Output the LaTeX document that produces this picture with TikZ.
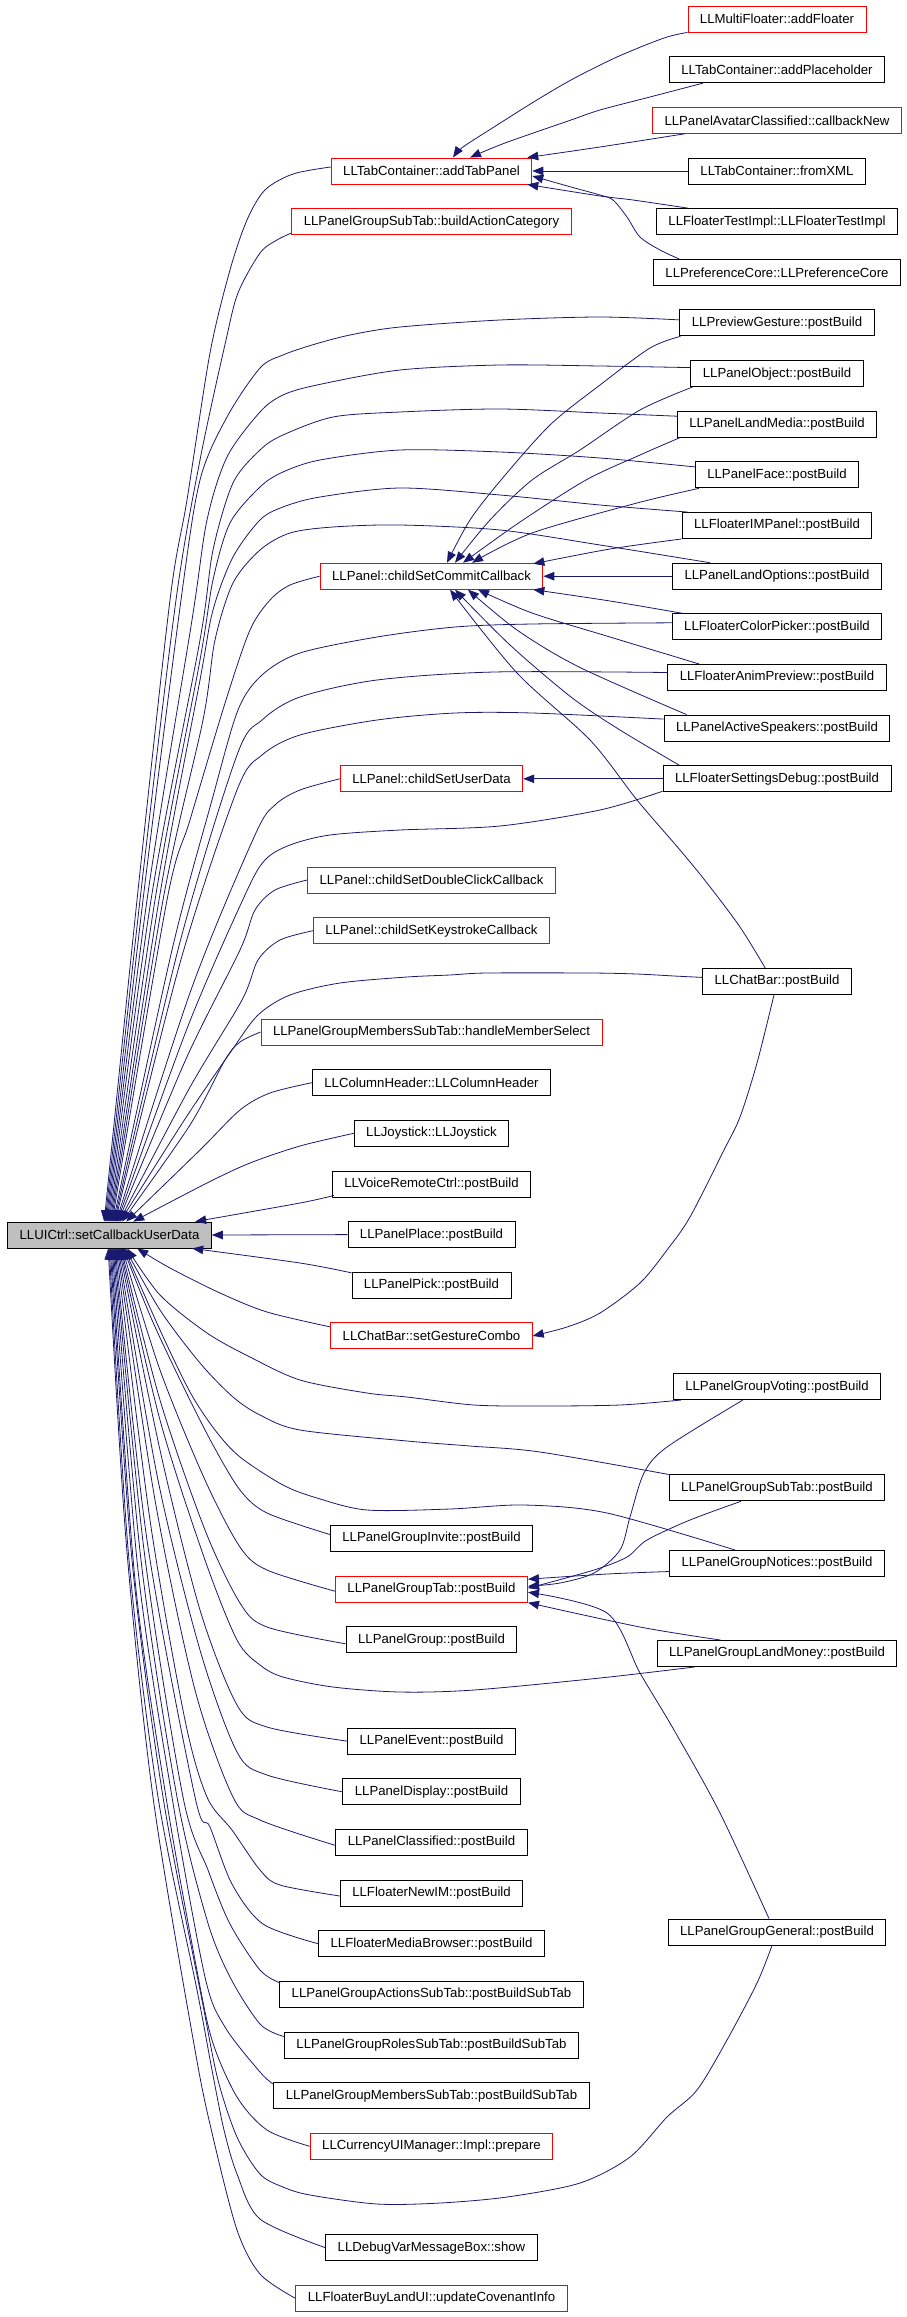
\documentclass[tikz,border=0pt]{standalone}
\usepackage{fontspec}
\setmainfont{Liberation Sans}
\usetikzlibrary{calc,arrows.meta}
\definecolor{edgeblue}{RGB}{25,25,112}
\definecolor{nodegray}{RGB}{191,191,191}
\begin{document}
\begin{tikzpicture}[x=1pt,y=-1pt,
  fn/.style={draw, rectangle, line width=0.9pt, inner xsep=12pt, inner ysep=2pt, minimum height=26pt, font=\fontsize{13.2}{15}\selectfont, anchor=center},
  fnred/.style={fn, draw=red},
  fnblk/.style={fn, draw=black},
  fnroot/.style={fn, draw=black, fill=nodegray},
  conn/.style={draw=edgeblue, line width=0.8pt, -{Triangle[length=11pt,width=8.5pt]}},
  cv/.style={smooth, tension=0.5}]
\useasboundingbox (0,0) rectangle (907,2317);
% ---------- root ----------
\node[fnroot] (cb) at (109.5,1235) {LLUICtrl::setCallbackUserData};
% ---------- middle column ----------
\node[fnred] (m1) at (431.5,171) {LLTabContainer::addTabPanel};
\node[fnred] (m2) at (431.5,221.6) {LLPanelGroupSubTab::buildActionCategory};
\node[fnred] (m3) at (431.5,576.2) {LLPanel::childSetCommitCallback};
\node[fnred] (m4) at (431.5,778.8) {LLPanel::childSetUserData};
\node[fnred] (m5) at (431.5,880) {LLPanel::childSetDoubleClickCallback};
\node[fnred] (m6) at (431.5,930.7) {LLPanel::childSetKeystrokeCallback};
\node[fnred] (m7) at (431.5,1032) {LLPanelGroupMembersSubTab::handleMemberSelect};
\node[fnblk] (m8) at (431.5,1082.7) {LLColumnHeader::LLColumnHeader};
\node[fnblk] (m9) at (431.5,1133.3) {LLJoystick::LLJoystick};
\node[fnblk] (m10) at (431.5,1184) {LLVoiceRemoteCtrl::postBuild};
\node[fnblk] (m11) at (431.5,1234.6) {LLPanelPlace::postBuild};
\node[fnblk] (m12) at (431.5,1285.3) {LLPanelPick::postBuild};
\node[fnred] (m13) at (431.5,1335.9) {LLChatBar::setGestureCombo};
\node[fnblk] (m14) at (431.5,1538.5) {LLPanelGroupInvite::postBuild};
\node[fnred] (m15) at (431.5,1589.2) {LLPanelGroupTab::postBuild};
\node[fnblk] (m16) at (431.5,1639.8) {LLPanelGroup::postBuild};
\node[fnblk] (m17) at (431.5,1741.1) {LLPanelEvent::postBuild};
\node[fnblk] (m18) at (431.5,1791.8) {LLPanelDisplay::postBuild};
\node[fnblk] (m19) at (431.5,1842.4) {LLPanelClassified::postBuild};
\node[fnblk] (m20) at (431.5,1893) {LLFloaterNewIM::postBuild};
\node[fnblk] (m21) at (431.5,1943.7) {LLFloaterMediaBrowser::postBuild};
\node[fnblk] (m22) at (431.5,1994.4) {LLPanelGroupActionsSubTab::postBuildSubTab};
\node[fnblk] (m23) at (431.5,2045) {LLPanelGroupRolesSubTab::postBuildSubTab};
\node[fnblk] (m24) at (431.5,2095.7) {LLPanelGroupMembersSubTab::postBuildSubTab};
\node[fnred] (m25) at (431.5,2146.3) {LLCurrencyUIManager::Impl::prepare};
\node[fnblk] (m26) at (431.5,2247.6) {LLDebugVarMessageBox::show};
\node[fnred] (m27) at (431.5,2298.3) {LLFloaterBuyLandUI::updateCovenantInfo};
% ---------- right column ----------
\node[fnred] (r1) at (777,19) {LLMultiFloater::addFloater};
\node[fnblk] (r2) at (777,69.7) {LLTabContainer::addPlaceholder};
\node[fnred] (r3) at (777,120.3) {LLPanelAvatarClassified::callbackNew};
\node[fnblk] (r4) at (777,171) {LLTabContainer::fromXML};
\node[fnblk] (r5) at (777,221.6) {LLFloaterTestImpl::LLFloaterTestImpl};
\node[fnblk] (r6) at (777,272.3) {LLPreferenceCore::LLPreferenceCore};
\node[fnblk] (r7) at (777,322.9) {LLPreviewGesture::postBuild};
\node[fnblk] (r8) at (777,373.6) {LLPanelObject::postBuild};
\node[fnblk] (r9) at (777,424.2) {LLPanelLandMedia::postBuild};
\node[fnblk] (r10) at (777,474.9) {LLPanelFace::postBuild};
\node[fnblk] (r11) at (777,525.5) {LLFloaterIMPanel::postBuild};
\node[fnblk] (r12) at (777,576.2) {LLPanelLandOptions::postBuild};
\node[fnblk] (r13) at (777,626.8) {LLFloaterColorPicker::postBuild};
\node[fnblk] (r14) at (777,677.5) {LLFloaterAnimPreview::postBuild};
\node[fnblk] (r15) at (777,728.1) {LLPanelActiveSpeakers::postBuild};
\node[fnblk] (r16) at (777,778.8) {LLFloaterSettingsDebug::postBuild};
\node[fnblk] (r17) at (777,981.4) {LLChatBar::postBuild};
\node[fnblk] (r18) at (777,1386.6) {LLPanelGroupVoting::postBuild};
\node[fnblk] (r19) at (777,1487.9) {LLPanelGroupSubTab::postBuild};
\node[fnblk] (r20) at (777,1563.5) {LLPanelGroupNotices::postBuild};
\node[fnblk] (r21) at (777,1653.5) {LLPanelGroupLandMoney::postBuild};
\node[fnblk] (r22) at (777,1932) {LLPanelGroupGeneral::postBuild};
% ---------- end points on the root ----------
\foreach \x in {104,...,127,133,137,192,195} {
  \coordinate (T\x) at ($(cb.north west)+(\x-7,0)$);
  \coordinate (B\x) at ($(cb.south west)+(\x-7,0)$);
}
% ---------- edges into addTabPanel ----------
\draw[conn] plot[cv] coordinates {(r1.south west) (664,38) (617,57) (571,80) (532,103) (494,127) (463,147) ($(m1.north)+(21.5,0)$)};
\draw[conn] plot[cv] coordinates {($(r2.south west)+(34,0)$) (650,97) (600,110) (571,120) (505,143) ($(m1.north)+(38.5,0)$)};
\draw[conn] plot[cv] coordinates {($(r3.south west)+(33,0)$) (600,147) ($(m1.north east)+(-5,0)$)};
\draw[conn] (r4.west) -- (m1.east);
\draw[conn] plot[cv] coordinates {($(r5.north west)+(32,0)$) (633,200) (600,196) ($(m1.south east)+(-5,0)$)};
\draw[conn] plot[cv] coordinates {($(r6.north west)+(26,0)$) (660,250) (640,237) (627,217) (613,200) (600,195) (571,187) ($(m1.east)+(0,5)$)};
% ---------- edges into childSetCommitCallback ----------
\draw[conn] plot[cv] coordinates {($(r7.south west)+(1,0)$) (650,348) (600,385) (550,425) (501,480) (470,520) ($(m3.north)+(15.5,0)$)};
\draw[conn] plot[cv] coordinates {($(r8.south west)+(2,0)$) (640,410) (580,450) (532,480) (490,520) ($(m3.north)+(23.5,0)$)};
\draw[conn] plot[cv] coordinates {($(r9.south west)+(3,0)$) (640,455) (586,480) (520,522) ($(m3.north)+(31.5,0)$)};
\draw[conn] plot[cv] coordinates {($(r10.south west)+(4,0)$) (637,503) (532,533) ($(m3.north)+(40.5,0)$)};
\draw[conn] plot[cv] coordinates {(r11.south west) (610,549) ($(m3.north east)+(-10,1)$)};
\draw[conn] (r12.west) -- (m3.east);
\draw[conn] plot[cv] coordinates {($(r13.north west)+(11,0)$) (610,601) ($(m3.south east)+(-10,0)$)};
\draw[conn] plot[cv] coordinates {($(r14.north west)+(32,0)$) (610,637) (532,613) ($(m3.south)+(46.5,0)$)};
\draw[conn] plot[cv] coordinates {($(r15.north west)+(23,0)$) (579,667) (517,630) ($(m3.south)+(36.5,0)$)};
\draw[conn] plot[cv] coordinates {($(r16.north west)+(17,0)$) (620,730) (571,697) (510,645) ($(m3.south)+(23.5,0)$)};
\draw[conn] plot[cv] coordinates {($(r17.north west)+(63,0)$) (740,927) (707,883) (680,850) (637,800) (590,740) (517,673) ($(m3.south)+(18.5,0)$)};
% ---------- other short edges ----------
\draw[conn] (r16.west) -- (m4.east);
\draw[conn] plot[cv] coordinates {($(r17.south)+(-3,0)$) (757,1063) (740,1117) (724,1150) (690,1217) (667,1250) (640,1283) (600,1313) (567,1327) (m13.east)};
\draw[conn] plot[cv] coordinates {($(r18.south west)+(70,0)$) (667,1447) (644,1473) (630,1517) (620,1550) (594,1573) (560,1583) ($(m15.east)+(0,-3)$)};
\draw[conn] plot[cv] coordinates {($(r19.south west)+(72,0)$) (690,1520) (647,1540) (627,1557) (594,1570) ($(m15.east)+(0,-1)$)};
\draw[conn] plot[cv] coordinates {($(r20.west)+(0,8)$) (607,1574) ($(m15.east)+(0,-10)$)};
\draw[conn] plot[cv] coordinates {($(r21.north west)+(64,0)$) (640,1627) (m15.south east)};
\draw[conn] plot[cv] coordinates {($(r22.north)+(-8,0)$) (720,1813) (674,1730) (640,1673) (607,1613) ($(m15.east)+(0,3)$)};
% ---------- edges into the root, from above ----------
\draw[conn] plot[cv] coordinates {($(m1.west)+(0,-4)$) (293,174) (265,190) (247,220) (230,270) (210,353) (187,500) (170,600) (137,900) (T104)};
\draw[conn] plot[cv] coordinates {($(m2.south west)+(0,-2)$) (277,240) (260,253) (238,293) (226,340) (200,460) (176,600) (140,900) (T105)};
\draw[conn] plot[cv] coordinates {($(r7.west)+(0,-3)$) (600,317) (500,320) (400,327) (350,335) (312,345) (283,355) (260,368) (227,417) (200,480) (181,600) (143,900) (T106)};
\draw[conn] plot[cv] coordinates {($(r8.west)+(0,-6)$) (600,366) (500,365) (400,370) (317,385) (283,395) (260,412) (227,457) (207,520) (192,620) (147,900) (T107)};
\draw[conn] plot[cv] coordinates {($(r9.west)+(0,-8)$) (600,413) (500,409) (400,412) (333,417) (283,435) (260,450) (233,483) (213,550) (200,640) (151,900) (T108)};
\draw[conn] plot[cv] coordinates {($(r10.west)+(0,-8)$) (600,458) (500,452) (400,450) (320,460) (283,472) (260,487) (230,523) (213,580) (200,660) (155,900) (T109)};
\draw[conn] plot[cv] coordinates {($(r11.north west)+(6,0)$) (600,505) (500,495) (400,488) (320,497) (283,507) (260,520) (233,557) (213,610) (200,680) (159,900) (T110)};
\draw[conn] plot[cv] coordinates {($(r12.north west)+(38,0)$) (600,545) (500,530) (400,525) (333,527) (290,533) (260,550) (233,583) (215,640) (203,720) (163,900) (T111)};
\draw[conn] plot[cv] coordinates {(m3.west) (290,585) (270,600) (250,630) (226,700) (190,820) (167,900) (T112)};
\draw[conn] plot[cv] coordinates {($(r13.west)+(0,-4)$) (532,624) (455,627) (377,637) (300,653) (262,675) (238,710) (212,800) (172,950) (T113)};
\draw[conn] plot[cv] coordinates {($(r14.west)+(0,-5)$) (494,672) (377,680) (300,697) (262,720) (237,755) (180,942) (T114)};
\draw[conn] plot[cv] coordinates {($(r15.west)+(0,-9)$) (532,713) (455,713) (377,720) (300,735) (262,755) (237,790) (180,963) (T115)};
\draw[conn] plot[cv] coordinates {(m4.west) (300,790) (275,805) (255,835) (191,990) (T116)};
\draw[conn] plot[cv] coordinates {($(r16.south west)+(0,-1)$) (600,810) (500,826) (400,830) (330,835) (290,845) (265,860) (245,895) (188,1026) (T117)};
\draw[conn] plot[cv] coordinates {(m5.west) (275,890) (255,910) (240,950) (186,1059) (T118)};
\draw[conn] plot[cv] coordinates {(m6.west) (280,940) (258,960) (242,1000) (189,1089) (T119)};
\draw[conn] plot[cv] coordinates {($(r17.west)+(0,-4)$) (674,976) (637,974) (590,973) (487,973) (450,975) (407,977) (340,983) (290,995) (258,1015) (232,1050) (185,1119) (T120)};
\draw[conn] plot[cv] coordinates {(m7.west) (240,1042) (225,1060) (190,1125) (T122)};
\draw[conn] plot[cv] coordinates {(m8.west) (270,1093) (240,1110) (200,1150) (T126)};
\draw[conn] plot[cv] coordinates {(m9.west) (300,1146) (250,1163) (207,1183) (T133)};
\draw[conn] plot[cv] coordinates {($(m10.south west)+(2,-2)$) (300,1203) (T195)};
\draw[conn] (m11.west) -- (cb.east);
% ---------- edges into the root, from below ----------
\draw[conn] plot[cv] coordinates {($(m12.north west)+(0,1)$) (300,1263) (B192)};
\draw[conn] plot[cv] coordinates {($(m13.west)+(0,-9)$) (267,1312) (220,1293) (170,1268) (B137)};
\draw[conn] plot[cv] coordinates {($(r18.south west)+(8,0)$) (620,1405) (540,1406) (474,1405) (407,1397) (367,1393) (300,1380) (250,1357) (207,1333) (160,1295) (B127)};
\draw[conn] plot[cv] coordinates {(r19.north west) (540,1452) (470,1446) (407,1441) (300,1430) (260,1415) (233,1397) (200,1363) (160,1310) (B125)};
\draw[conn] plot[cv] coordinates {($(r20.north west)+(66,0)$) (607,1513) (524,1505) (450,1509) (367,1510) (317,1498) (283,1485) (240,1457) (215,1430) (190,1392) (160,1330) (B124)};
\draw[conn] plot[cv] coordinates {($(m14.west)+(0,-4)$) (267,1513) (240,1490) (213,1445) (185,1390) (152,1320) (B123)};
\draw[conn] plot[cv] coordinates {($(m15.west)+(0,2)$) (267,1570) (240,1547) (205,1480) (160,1370) (B122)};
\draw[conn] plot[cv] coordinates {($(m16.west)+(0,4)$) (267,1627) (240,1603) (205,1530) (160,1400) (B121)};
\draw[conn] plot[cv] coordinates {($(r21.south west)+(38,0)$) (600,1678) (474,1690) (400,1692) (333,1687) (283,1677) (260,1665) (237,1640) (205,1560) (160,1420) (B120)};
\draw[conn] plot[cv] coordinates {(m17.west) (267,1727) (237,1705) (200,1610) (160,1450) (B119)};
\draw[conn] plot[cv] coordinates {(m18.west) (267,1775) (237,1752) (200,1650) (158,1480) (B118)};
\draw[conn] plot[cv] coordinates {($(m19.west)+(0,3)$) (260,1820) (233,1797) (195,1690) (155,1500) (B117)};
\draw[conn] plot[cv] coordinates {($(m20.west)+(0,3)$) (280,1885) (260,1870) (232,1830) (207,1797) (185,1720) (150,1520) (B116)};
\draw[conn] plot[cv] coordinates {(m21.west) (263,1924) (232,1884) (210,1827) (195,1797) (147,1540) (B115)};
\draw[conn] plot[cv] coordinates {($(m22.north west)+(1,2)$) (260,1970) (230,1924) (208,1870) (183,1797) (144,1550) (B114)};
\draw[conn] plot[cv] coordinates {($(m23.north west)+(0,5)$) (260,2024) (230,1977) (207,1920) (177,1797) (141,1560) (B113)};
\draw[conn] plot[cv] coordinates {($(m24.north west)+(0,2)$) (260,2072) (225,2027) (205,1977) (172,1797) (138,1570) (B112)};
\draw[conn] plot[cv] coordinates {(m25.west) (267,2130) (237,2097) (212,2040) (195,1960) (166,1797) (135,1580) (B111)};
\draw[conn] plot[cv] coordinates {($(r22.south)+(-5,0)$) (757,1983) (727,2040) (697,2090) (667,2117) (630,2157) (580,2183) (507,2197) (440,2203) (377,2204) (310,2195) (283,2187) (260,2174) (237,2137) (218,2080) (202,2000) (163,1797) (132,1560) (B110)};
\draw[conn] plot[cv] coordinates {(m26.west) (260,2219) (237,2174) (224,2130) (212,2070) (197,1990) (158,1797) (129,1560) (B109)};
\draw[conn] plot[cv] coordinates {(m27.west) (260,2274) (237,2230) (213,2137) (195,2050) (153,1797) (126,1540) (B108)};
\end{tikzpicture}
\end{document}
